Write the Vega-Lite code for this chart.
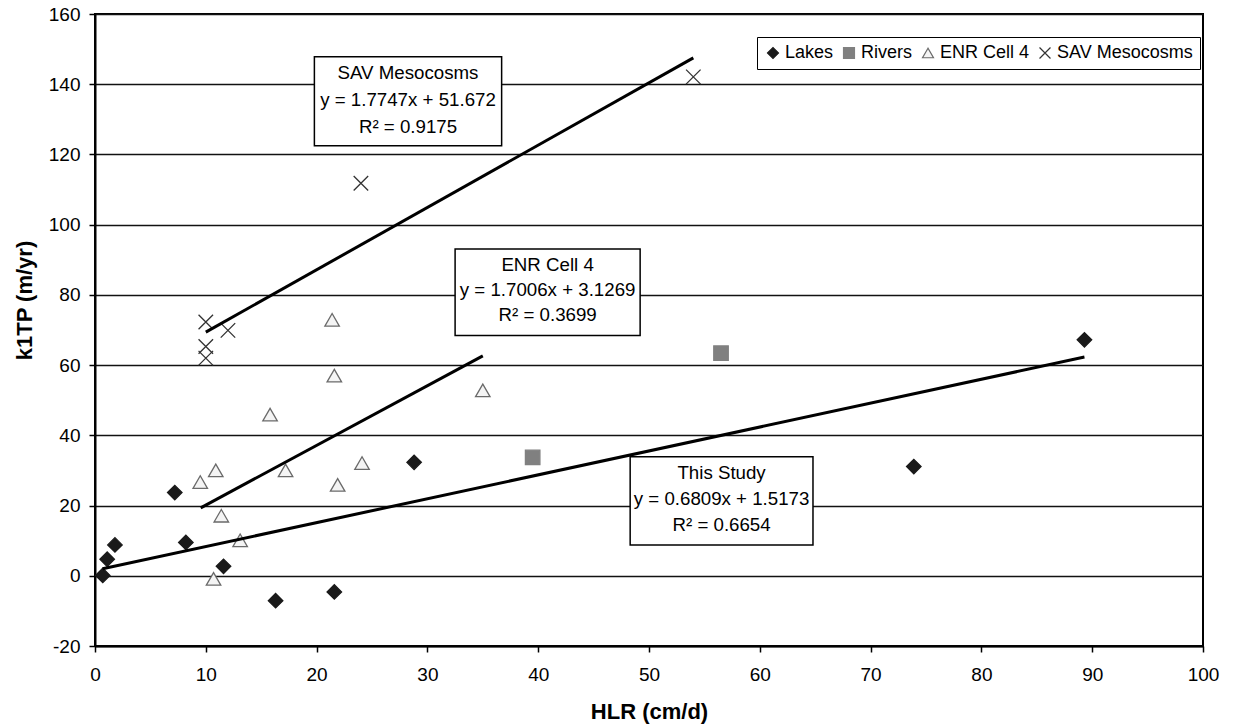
{
  "$schema": "https://vega.github.io/schema/vega-lite/v6.json",
  "width": 1108,
  "height": 632,
  "autosize": {"type": "none"},
  "padding": {"left": 95, "top": 14, "right": 30, "bottom": 81},
  "background": "white",
  "config": {
    "font": "Liberation Sans",
    "view": {"stroke": "#000000", "strokeWidth": 2},
    "axis": {
      "labelFont": "Liberation Sans",
      "titleFont": "Liberation Sans",
      "labelColor": "#000000",
      "titleColor": "#000000",
      "labelFontSize": 19,
      "titleFontSize": 22,
      "titleFontWeight": "bold",
      "domainColor": "#000000",
      "domainWidth": 2,
      "tickColor": "#000000",
      "tickWidth": 1.5,
      "tickSize": 6,
      "labelFlush": false,
      "labelOverlap": false,
      "labelExpr": "replace(datum.label, '\u2212', '-')"
    }
  },
  "datasets": {
    "pts": [
      {"series": "Lakes", "hlr": 0.7, "k": 0.1},
      {"series": "Lakes", "hlr": 1.1, "k": 4.7},
      {"series": "Lakes", "hlr": 1.8, "k": 8.8},
      {"series": "Lakes", "hlr": 7.2, "k": 23.7},
      {"series": "Lakes", "hlr": 8.2, "k": 9.5},
      {"series": "Lakes", "hlr": 11.6, "k": 2.7},
      {"series": "Lakes", "hlr": 16.3, "k": -7.1},
      {"series": "Lakes", "hlr": 21.6, "k": -4.6},
      {"series": "Lakes", "hlr": 28.8, "k": 32.3},
      {"series": "Lakes", "hlr": 73.9, "k": 31.1},
      {"series": "Lakes", "hlr": 89.3, "k": 67.2},
      {"series": "Rivers", "hlr": 39.5, "k": 33.7},
      {"series": "Rivers", "hlr": 56.5, "k": 63.4},
      {"series": "ENR Cell 4", "hlr": 21.4, "k": 72.9},
      {"series": "ENR Cell 4", "hlr": 21.6, "k": 57.0},
      {"series": "ENR Cell 4", "hlr": 15.8, "k": 45.9},
      {"series": "ENR Cell 4", "hlr": 10.9, "k": 30.0},
      {"series": "ENR Cell 4", "hlr": 9.5, "k": 26.7},
      {"series": "ENR Cell 4", "hlr": 17.2, "k": 30.0},
      {"series": "ENR Cell 4", "hlr": 24.1, "k": 32.1},
      {"series": "ENR Cell 4", "hlr": 21.9, "k": 25.9},
      {"series": "ENR Cell 4", "hlr": 11.4, "k": 17.1},
      {"series": "ENR Cell 4", "hlr": 13.1, "k": 10.1},
      {"series": "ENR Cell 4", "hlr": 10.7, "k": -0.9},
      {"series": "ENR Cell 4", "hlr": 35.0, "k": 52.8},
      {"series": "SAV Mesocosms", "hlr": 10.0, "k": 72.3},
      {"series": "SAV Mesocosms", "hlr": 12.0, "k": 69.9},
      {"series": "SAV Mesocosms", "hlr": 10.0, "k": 65.3},
      {"series": "SAV Mesocosms", "hlr": 10.0, "k": 62.0},
      {"series": "SAV Mesocosms", "hlr": 24.0, "k": 111.8},
      {"series": "SAV Mesocosms", "hlr": 54.0, "k": 142.1}
    ],
    "trends": [
      {"fit": "SAV", "hlr": 10.0, "k": 69.4},
      {"fit": "SAV", "hlr": 54.0, "k": 147.5},
      {"fit": "ENR", "hlr": 9.54, "k": 19.35},
      {"fit": "ENR", "hlr": 35.0, "k": 62.65},
      {"fit": "Study", "hlr": 0.69, "k": 1.99},
      {"fit": "Study", "hlr": 89.3, "k": 62.3}
    ],
    "boxes": [
      {"box": "SAV", "x1": 19.8, "x2": 36.7, "y1": 147.8, "y2": 122.5},
      {"box": "ENR", "x1": 32.5, "x2": 49.2, "y1": 93.1, "y2": 68.4},
      {"box": "Study", "x1": 48.3, "x2": 64.8, "y1": 33.9, "y2": 8.8}
    ],
    "labels": [
      {"text": "SAV Mesocosms", "tx": 28.25, "ty": 143.3},
      {"text": "y = 1.7747x + 51.672", "tx": 28.25, "ty": 135.6},
      {"text": "R² = 0.9175", "tx": 28.25, "ty": 127.9},
      {"text": "ENR Cell 4", "tx": 40.85, "ty": 88.6},
      {"text": "y = 1.7006x + 3.1269", "tx": 40.85, "ty": 81.3},
      {"text": "R² = 0.3699", "tx": 40.85, "ty": 74.2},
      {"text": "This Study", "tx": 56.55, "ty": 29.3},
      {"text": "y = 0.6809x + 1.5173", "tx": 56.55, "ty": 21.9},
      {"text": "R² = 0.6654", "tx": 56.55, "ty": 14.5}
    ]
  },
  "layer": [
    {
      "data": {"name": "pts"},
      "mark": {"type": "point", "filled": true, "strokeWidth": 1.3, "opacity": 1},
      "encoding": {
        "x": {
          "field": "hlr", "type": "quantitative",
          "scale": {"domain": [0, 100], "nice": false},
          "axis": {"title": "HLR (cm/d)", "values": [0,10,20,30,40,50,60,70,80,90,100], "grid": false, "labelPadding": 13, "titlePadding": 17}
        },
        "y": {
          "field": "k", "type": "quantitative",
          "scale": {"domain": [-20, 160], "nice": false},
          "axis": {"title": "k1TP (m/yr)", "values": [-20,0,20,40,60,80,100,120,140,160], "grid": true, "gridColor": "#111111", "gridWidth": 1.4, "gridOpacity": 1, "labelPadding": 9, "titlePadding": 12, "titleY": 286}
        },
        "shape": {
          "field": "series", "type": "nominal",
          "scale": {"domain": ["Lakes", "Rivers", "ENR Cell 4", "SAV Mesocosms"], "range": ["diamond", "square", "triangle-up", "M-1,-1L1,1M1,-1L-1,1"]},
          "legend": {
            "title": null, "orient": "none", "legendX": 662, "legendY": 23, "direction": "horizontal", "columns": 4,
            "strokeColor": "#000000", "fillColor": "#ffffff", "padding": 7, "columnPadding": 6,
            "labelFontSize": 18, "labelColor": "#000000", "labelFont": "Liberation Sans", "symbolSize": 120, "labelOffset": 3, "symbolStrokeWidth": 1.2
          }
        },
        "fill": {
          "field": "series", "type": "nominal",
          "scale": {"domain": ["Lakes", "Rivers", "ENR Cell 4", "SAV Mesocosms"], "range": ["#1a1a1a", "#808080", "#f4f4f4", "transparent"]}
        },
        "stroke": {
          "field": "series", "type": "nominal",
          "scale": {"domain": ["Lakes", "Rivers", "ENR Cell 4", "SAV Mesocosms"], "range": ["#1a1a1a", "#808080", "#6a6a6a", "#333333"]}
        },
        "size": {"value": 210}
      }
    },
    {
      "data": {"name": "trends"},
      "mark": {"type": "line", "color": "#000000", "strokeWidth": 3},
      "encoding": {
        "x": {"field": "hlr", "type": "quantitative"},
        "y": {"field": "k", "type": "quantitative"},
        "detail": {"field": "fit", "type": "nominal"}
      }
    },
    {
      "data": {"name": "boxes"},
      "mark": {"type": "rect", "fill": "#ffffff", "stroke": "#000000", "strokeWidth": 1.5},
      "encoding": {
        "x": {"field": "x1", "type": "quantitative"},
        "x2": {"field": "x2"},
        "y": {"field": "y1", "type": "quantitative"},
        "y2": {"field": "y2"}
      }
    },
    {
      "data": {"name": "labels"},
      "mark": {"type": "text", "font": "Liberation Sans", "fontSize": 18.7, "color": "#000000", "align": "center", "baseline": "middle"},
      "encoding": {
        "x": {"field": "tx", "type": "quantitative"},
        "y": {"field": "ty", "type": "quantitative"},
        "text": {"field": "text"}
      }
    }
  ]
}
